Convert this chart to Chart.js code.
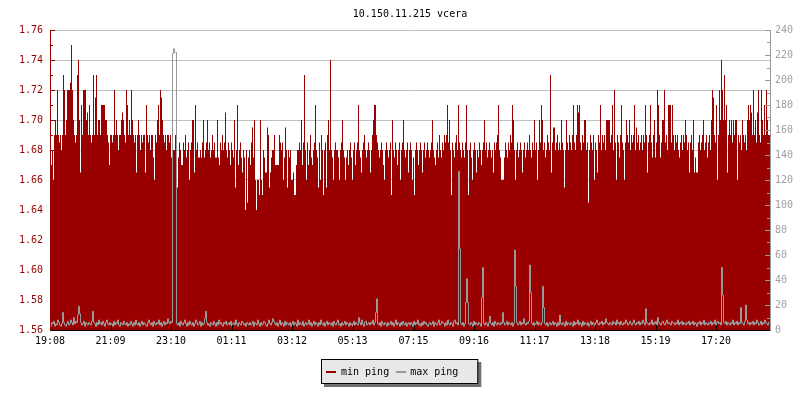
<!DOCTYPE html>
<html>
<head>
<meta charset="utf-8">
<title>10.150.11.215 vcera</title>
<script src="https://cdn.jsdelivr.net/npm/chart.js@4.4.1/dist/chart.umd.min.js"></script>
<style>
  html, body { margin: 0; padding: 0; background: #fff; }
  #wrap { width: 800px; height: 400px; }
</style>
</head>
<body>
<div id="wrap"><canvas id="pingChart" width="800" height="400"></canvas></div>
<script>
const chartTitle = '10.150.11.215 vcera';
const seriesNames = ['min ping', 'max ping'];
const timeLabels = ['19:08', '21:09', '23:10', '01:11', '03:12', '05:13', '07:15', '09:16', '11:17', '13:18', '15:19', '17:20'];
const stepMinutes = 2;

// min ping, one sample every 2 minutes (left axis)
const minPing = [
  1.69, 1.67, 1.67, 1.68, 1.66, 1.69, 1.70, 1.69, 1.72, 1.69, 1.685, 1.69, 1.68, 1.69, 1.73, 1.72, 1.69, 1.70, 1.72, 1.72,
  1.72, 1.725, 1.75, 1.72, 1.70, 1.69, 1.685, 1.69, 1.73, 1.74, 1.70, 1.665, 1.71, 1.69, 1.72, 1.72, 1.72, 1.70, 1.705, 1.69,
  1.71, 1.69, 1.685, 1.69, 1.73, 1.69, 1.715, 1.73, 1.69, 1.70, 1.70, 1.69, 1.71, 1.71, 1.71, 1.71, 1.70, 1.70, 1.69, 1.685,
  1.67, 1.69, 1.69, 1.685, 1.69, 1.72, 1.69, 1.70, 1.69, 1.68, 1.69, 1.69, 1.70, 1.705, 1.70, 1.69, 1.685, 1.72, 1.71, 1.69,
  1.70, 1.69, 1.72, 1.70, 1.69, 1.685, 1.69, 1.665, 1.69, 1.70, 1.69, 1.68, 1.69, 1.685, 1.69, 1.69, 1.665, 1.71, 1.69, 1.685,
  1.69, 1.68, 1.69, 1.69, 1.675, 1.66, 1.69, 1.685, 1.70, 1.71, 1.69, 1.72, 1.715, 1.70, 1.69, 1.685, 1.69, 1.68, 1.69, 1.69,
  1.685, 1.69, 1.675, 1.69, 1.68, 1.68, 1.69, 1.71, 1.655, 1.675, 1.685, 1.68, 1.67, 1.67, 1.685, 1.68, 1.69, 1.675, 1.68, 1.685,
  1.66, 1.68, 1.685, 1.70, 1.70, 1.665, 1.71, 1.68, 1.685, 1.675, 1.675, 1.68, 1.675, 1.685, 1.70, 1.675, 1.68, 1.685, 1.70, 1.68,
  1.685, 1.675, 1.68, 1.69, 1.68, 1.685, 1.675, 1.675, 1.70, 1.675, 1.67, 1.685, 1.68, 1.69, 1.68, 1.685, 1.705, 1.68, 1.675, 1.685,
  1.68, 1.67, 1.685, 1.68, 1.675, 1.70, 1.655, 1.68, 1.71, 1.67, 1.68, 1.685, 1.675, 1.665, 1.68, 1.675, 1.64, 1.68, 1.645, 1.675,
  1.68, 1.67, 1.685, 1.695, 1.675, 1.70, 1.66, 1.64, 1.66, 1.66, 1.65, 1.70, 1.66, 1.65, 1.68, 1.675, 1.665, 1.665, 1.695, 1.69,
  1.655, 1.665, 1.675, 1.68, 1.68, 1.69, 1.67, 1.67, 1.67, 1.67, 1.69, 1.685, 1.68, 1.685, 1.66, 1.675, 1.695, 1.68, 1.655, 1.68,
  1.675, 1.68, 1.66, 1.66, 1.665, 1.65, 1.65, 1.67, 1.68, 1.68, 1.685, 1.68, 1.70, 1.67, 1.685, 1.73, 1.68, 1.66, 1.685, 1.67,
  1.68, 1.69, 1.675, 1.67, 1.68, 1.685, 1.71, 1.68, 1.675, 1.655, 1.685, 1.66, 1.69, 1.68, 1.65, 1.68, 1.685, 1.655, 1.69, 1.70,
  1.68, 1.74, 1.68, 1.675, 1.66, 1.68, 1.685, 1.68, 1.68, 1.675, 1.66, 1.68, 1.685, 1.70, 1.68, 1.675, 1.66, 1.675, 1.68, 1.67,
  1.68, 1.685, 1.675, 1.66, 1.68, 1.685, 1.67, 1.68, 1.685, 1.71, 1.68, 1.675, 1.665, 1.68, 1.685, 1.69, 1.68, 1.675, 1.68, 1.685,
  1.68, 1.665, 1.68, 1.69, 1.70, 1.71, 1.71, 1.69, 1.685, 1.68, 1.675, 1.68, 1.685, 1.68, 1.67, 1.66, 1.68, 1.685, 1.68, 1.675,
  1.68, 1.685, 1.65, 1.70, 1.68, 1.675, 1.685, 1.68, 1.67, 1.68, 1.685, 1.66, 1.68, 1.685, 1.70, 1.68, 1.675, 1.68, 1.685, 1.665,
  1.68, 1.685, 1.68, 1.66, 1.675, 1.65, 1.68, 1.685, 1.68, 1.67, 1.68, 1.685, 1.68, 1.665, 1.68, 1.685, 1.675, 1.68, 1.685, 1.68,
  1.675, 1.68, 1.685, 1.70, 1.68, 1.675, 1.67, 1.68, 1.685, 1.675, 1.69, 1.68, 1.675, 1.685, 1.68, 1.69, 1.685, 1.69, 1.71, 1.685,
  1.70, 1.68, 1.65, 1.685, 1.68, 1.675, 1.685, 1.69, 1.68, 1.71, 1.685, 1.68, 1.675, 1.685, 1.68, 1.675, 1.685, 1.71, 1.68, 1.65,
  1.68, 1.685, 1.675, 1.66, 1.68, 1.685, 1.68, 1.665, 1.68, 1.675, 1.685, 1.68, 1.67, 1.68, 1.685, 1.70, 1.68, 1.685, 1.675, 1.68,
  1.685, 1.68, 1.675, 1.68, 1.665, 1.685, 1.68, 1.685, 1.69, 1.71, 1.68, 1.675, 1.66, 1.66, 1.66, 1.675, 1.685, 1.68, 1.675, 1.685,
  1.68, 1.69, 1.685, 1.71, 1.70, 1.68, 1.66, 1.68, 1.685, 1.675, 1.68, 1.685, 1.68, 1.665, 1.68, 1.685, 1.675, 1.68, 1.685, 1.68,
  1.69, 1.68, 1.675, 1.685, 1.68, 1.70, 1.68, 1.685, 1.66, 1.68, 1.70, 1.685, 1.71, 1.70, 1.68, 1.685, 1.675, 1.68, 1.69, 1.685,
  1.68, 1.73, 1.665, 1.685, 1.695, 1.695, 1.68, 1.685, 1.69, 1.68, 1.685, 1.68, 1.70, 1.685, 1.68, 1.655, 1.68, 1.70, 1.685, 1.68,
  1.69, 1.685, 1.68, 1.69, 1.71, 1.685, 1.68, 1.69, 1.71, 1.705, 1.71, 1.685, 1.68, 1.69, 1.685, 1.70, 1.70, 1.68, 1.685, 1.645,
  1.68, 1.69, 1.685, 1.68, 1.69, 1.66, 1.685, 1.68, 1.665, 1.69, 1.685, 1.71, 1.68, 1.69, 1.685, 1.69, 1.68, 1.70, 1.70, 1.70,
  1.70, 1.685, 1.69, 1.71, 1.68, 1.72, 1.685, 1.66, 1.69, 1.685, 1.675, 1.69, 1.71, 1.685, 1.68, 1.66, 1.685, 1.70, 1.69, 1.685,
  1.70, 1.68, 1.69, 1.685, 1.69, 1.71, 1.68, 1.695, 1.685, 1.69, 1.68, 1.685, 1.69, 1.68, 1.69, 1.685, 1.71, 1.69, 1.665, 1.685,
  1.69, 1.71, 1.685, 1.675, 1.69, 1.70, 1.675, 1.685, 1.72, 1.71, 1.69, 1.675, 1.685, 1.70, 1.70, 1.72, 1.685, 1.69, 1.68, 1.71,
  1.71, 1.71, 1.685, 1.71, 1.69, 1.68, 1.69, 1.685, 1.69, 1.68, 1.675, 1.685, 1.69, 1.68, 1.69, 1.685, 1.70, 1.69, 1.68, 1.685,
  1.665, 1.685, 1.69, 1.68, 1.70, 1.665, 1.675, 1.665, 1.665, 1.685, 1.69, 1.68, 1.685, 1.69, 1.70, 1.68, 1.685, 1.69, 1.675, 1.685,
  1.69, 1.68, 1.70, 1.72, 1.715, 1.69, 1.685, 1.71, 1.66, 1.69, 1.72, 1.70, 1.74, 1.72, 1.70, 1.73, 1.70, 1.71, 1.665, 1.69,
  1.70, 1.69, 1.70, 1.685, 1.70, 1.69, 1.70, 1.70, 1.66, 1.69, 1.685, 1.69, 1.68, 1.70, 1.69, 1.685, 1.69, 1.68, 1.70, 1.71,
  1.70, 1.71, 1.705, 1.69, 1.72, 1.69, 1.70, 1.685, 1.705, 1.72, 1.69, 1.685, 1.72, 1.70, 1.69, 1.71, 1.69, 1.72, 1.70, 1.69
];

// max ping, same sampling (right axis)
const maxPing = [
  4, 3, 6, 5, 7, 3, 5, 4, 8, 6, 4, 3, 5, 14, 6, 4, 3, 5, 7, 4,
  5, 8, 6, 4, 10, 5, 7, 6, 12, 19, 13, 6, 4, 5, 7, 3, 6, 5, 4, 6,
  5, 4, 7, 15, 6, 5, 3, 6, 4, 8, 5, 6, 4, 7, 5, 3, 6, 8, 5, 4,
  6, 4, 5, 3, 7, 4, 6, 5, 8, 4, 3, 6, 5, 4, 7, 5, 4, 6, 3, 5,
  4, 7, 5, 3, 6, 4, 8, 5, 4, 6, 3, 5, 7, 4, 6, 5, 4, 3, 6, 8,
  5, 4, 6, 3, 7, 5, 4, 6, 5, 8, 4, 6, 3, 5, 7, 4, 6, 5, 9, 6,
  5, 7, 6, 221, 225, 222, 222, 5, 4, 6, 3, 7, 5, 4, 6, 8, 5, 3, 6, 4,
  7, 5, 4, 6, 3, 5, 8, 6, 4, 5, 7, 3, 6, 4, 5, 9, 15, 6, 4, 5,
  3, 6, 5, 4, 7, 5, 3, 6, 4, 8, 5, 6, 4, 3, 6, 5, 7, 4, 5, 6,
  4, 7, 3, 5, 6, 4, 8, 5, 3, 6, 5, 4, 7, 6, 4, 5, 3, 6, 5, 4,
  6, 4, 5, 7, 3, 6, 5, 4, 8, 5, 3, 6, 4, 5, 7, 6, 4, 3, 5, 8,
  5, 4, 6, 9, 7, 5, 4, 6, 3, 5, 8, 4, 6, 5, 3, 7, 4, 6, 5, 4,
  6, 3, 5, 7, 4, 6, 5, 3, 8, 4, 6, 5, 4, 7, 3, 5, 6, 4, 5, 8,
  4, 6, 3, 5, 7, 4, 6, 5, 3, 6, 4, 8, 5, 4, 6, 3, 5, 7, 4, 6,
  5, 4, 6, 3, 7, 5, 4, 6, 8, 4, 5, 3, 6, 4, 5, 7, 4, 6, 5, 3,
  6, 4, 5, 3, 7, 4, 6, 5, 4, 10, 6, 4, 8, 5, 3, 6, 7, 4, 5, 6,
  4, 6, 5, 8, 4, 6, 14, 25, 5, 4, 6, 3, 7, 5, 4, 6, 5, 3, 6, 4,
  5, 7, 4, 6, 3, 5, 8, 4, 6, 5, 3, 6, 4, 7, 5, 4, 6, 3, 5, 6,
  4, 6, 5, 3, 7, 4, 6, 5, 8, 4, 5, 3, 6, 4, 7, 5, 6, 4, 3, 5,
  6, 4, 5, 7, 3, 6, 5, 4, 6, 8, 4, 5, 7, 6, 5, 3, 6, 4, 8, 5,
  4, 6, 5, 3, 7, 8, 5, 6, 4, 127, 65, 5, 4, 6, 3, 5, 22, 41, 22, 5,
  4, 6, 5, 3, 7, 4, 6, 5, 4, 6, 5, 3, 26, 50, 5, 4, 6, 5, 3, 6,
  11, 5, 4, 6, 3, 7, 5, 4, 6, 5, 4, 6, 5, 14, 6, 4, 5, 7, 4, 6,
  5, 4, 6, 3, 5, 64, 35, 6, 4, 5, 7, 4, 6, 5, 9, 5, 4, 6, 5, 7,
  52, 30, 5, 4, 6, 3, 5, 7, 4, 6, 5, 4, 6, 35, 18, 5, 4, 6, 3, 5,
  6, 4, 5, 7, 4, 6, 5, 3, 6, 4, 12, 5, 4, 6, 5, 3, 7, 4, 6, 5,
  4, 6, 5, 3, 7, 4, 6, 5, 8, 4, 6, 5, 3, 7, 4, 6, 5, 4, 6, 3,
  5, 7, 4, 6, 5, 3, 6, 8, 5, 4, 6, 5, 7, 4, 6, 5, 9, 6, 5, 4,
  6, 5, 4, 7, 5, 6, 4, 8, 5, 6, 4, 7, 5, 4, 6, 5, 8, 6, 4, 5,
  7, 5, 4, 6, 8, 5, 4, 6, 5, 7, 4, 6, 5, 8, 6, 4, 17, 6, 5, 4,
  6, 5, 8, 4, 6, 5, 7, 4, 10, 6, 5, 4, 6, 7, 5, 4, 6, 8, 5, 6,
  5, 4, 7, 6, 5, 4, 6, 5, 8, 4, 6, 5, 7, 4, 6, 5, 4, 6, 5, 7,
  4, 6, 5, 7, 4, 6, 5, 3, 6, 5, 7, 4, 6, 5, 8, 4, 6, 5, 4, 6,
  5, 7, 4, 6, 5, 8, 4, 6, 7, 5, 6, 4, 50, 28, 6, 5, 7, 4, 6, 5,
  4, 6, 5, 8, 4, 6, 5, 7, 4, 6, 5, 18, 6, 5, 4, 7, 20, 8, 5, 6,
  4, 6, 5, 7, 4, 6, 5, 8, 6, 4, 5, 7, 4, 6, 5, 8, 6, 5, 4, 6
];

const redColor = '#990000';
const greyColor = '#999999';
const monoFont = '"DejaVu Sans Mono", "Liberation Mono", monospace';

const startMinute = 19 * 60 + 8;
const tickMinutes = timeLabels.map(t => {
  const [h, m] = t.split(':').map(Number);
  return (h * 60 + m - startMinute + 1440) % 1440;
});
const spanMinutes = minPing.length * stepMinutes;

// stepped series need the last step closed at the end of the range
function toSteps(values) {
  const pts = values.map((v, i) => ({ x: i * stepMinutes, y: v }));
  pts.push({ x: spanMinutes, y: values[values.length - 1] });
  return pts;
}

// inward tick marks, title and the boxed legend
const rrdDecor = {
  id: 'rrdDecor',
  beforeDatasetDraw(chart, args) {
    // keep the thin max line on whole pixels
    if (args.meta.yAxisID === 'y2') {
      chart.ctx.save();
      chart.ctx.translate(0.5, 0);
    }
  },
  afterDatasetDraw(chart, args) {
    if (args.meta.yAxisID === 'y2') chart.ctx.restore();
  },
  afterDatasetsDraw(chart) {
    const { ctx, chartArea: a, scales } = chart;
    ctx.save();
    ctx.lineWidth = 1;

    ctx.strokeStyle = '#000';
    ctx.beginPath();
    tickMinutes.forEach(m => {
      const px = Math.round(scales.x.getPixelForValue(m)) + 0.5;
      ctx.moveTo(px, a.bottom);
      ctx.lineTo(px, a.bottom - 5);
    });
    ctx.stroke();

    ctx.strokeStyle = redColor;
    ctx.beginPath();
    for (let v = 156; v <= 176; v++) {
      const py = Math.round(scales.y.getPixelForValue(v / 100)) + 0.5;
      ctx.moveTo(a.left, py);
      ctx.lineTo(a.left + (v % 2 === 0 ? 5 : 3), py);
    }
    ctx.stroke();

    ctx.strokeStyle = greyColor;
    ctx.beginPath();
    for (let v = 0; v <= 240; v += 10) {
      const py = Math.round(scales.y2.getPixelForValue(v)) + 0.5;
      ctx.moveTo(a.right, py);
      ctx.lineTo(a.right - (v % 20 === 0 ? 5 : 3), py);
    }
    ctx.stroke();
    ctx.restore();
  },
  afterDraw(chart) {
    const { ctx, chartArea: a } = chart;
    ctx.save();
    ctx.font = '10px ' + monoFont;
    ctx.textBaseline = 'alphabetic';
    ctx.fillStyle = '#000';
    ctx.textAlign = 'center';
    ctx.fillText(chartTitle, (a.left + a.right) / 2, 17);

    // legend box
    ctx.textAlign = 'left';
    const w1 = ctx.measureText(seriesNames[0]).width;
    const w2 = ctx.measureText(seriesNames[1]).width;
    const lw = 5 + 10 + 5 + w1 + 7 + 10 + 4 + w2 + 19;
    const lh = 24;
    const lx = Math.round(chart.width / 2 - 1 - lw / 2);
    const ly = 359;
    ctx.fillStyle = '#707070';
    ctx.fillRect(lx + 3, ly + 3, lw + 1, lh + 1);
    ctx.fillStyle = '#e8e8e8';
    ctx.fillRect(lx, ly, lw, lh);
    ctx.strokeStyle = '#000';
    ctx.strokeRect(lx + 0.5, ly + 0.5, lw, lh);

    let x = lx + 5;
    ctx.fillStyle = redColor;
    ctx.fillRect(x, 371, 10, 2);
    x += 15;
    ctx.fillStyle = '#000';
    ctx.fillText(seriesNames[0], x, 375);
    x += w1 + 7;
    ctx.fillStyle = greyColor;
    ctx.fillRect(x, 371, 10, 2);
    x += 14;
    ctx.fillStyle = '#000';
    ctx.fillText(seriesNames[1], x, 375);
    ctx.restore();
  }
};

new Chart(document.getElementById('pingChart'), {
  type: 'line',
  data: {
    datasets: [
      {
        label: seriesNames[0],
        data: toSteps(minPing),
        yAxisID: 'y',
        stepped: 'after',
        borderWidth: 0,
        borderColor: redColor,
        backgroundColor: redColor,
        fill: 'start',
        pointRadius: 0,
        order: 2
      },
      {
        label: seriesNames[1],
        data: toSteps(maxPing),
        yAxisID: 'y2',
        stepped: 'after',
        borderWidth: 1,
        borderColor: greyColor,
        fill: false,
        pointRadius: 0,
        order: 1
      }
    ]
  },
  options: {
    responsive: false,
    animation: false,
    devicePixelRatio: 1,
    layout: { padding: { top: 30, bottom: 50, left: 0, right: 0 } },
    plugins: {
      legend: { display: false },
      title: { display: false },
      tooltip: { enabled: false }
    },
    scales: {
      x: {
        type: 'linear',
        min: 0,
        max: spanMinutes,
        afterFit: s => { s.height = 20; },
        afterBuildTicks: s => { s.ticks = tickMinutes.map(v => ({ value: v })); },
        grid: { display: false, drawTicks: false },
        border: { display: true, color: '#000', width: 1, z: 1 },
        ticks: {
          autoSkip: false,
          maxRotation: 0,
          padding: 5,
          color: '#000',
          font: { family: monoFont, size: 10 },
          callback: (v, i) => timeLabels[i]
        }
      },
      y: {
        position: 'left',
        min: 1.56,
        max: 1.76,
        afterFit: s => { s.width = 50; },
        grid: { color: '#c0c0c0', drawTicks: false },
        border: { display: true, color: redColor, width: 1, z: 1 },
        ticks: {
          stepSize: 0.02,
          padding: 7,
          color: redColor,
          font: { family: monoFont, size: 10 },
          callback: v => v.toFixed(2)
        }
      },
      y2: {
        position: 'right',
        min: 0,
        max: 240,
        afterFit: s => { s.width = 30; },
        grid: { display: false, drawTicks: false },
        border: { display: true, color: greyColor, width: 1, z: 1 },
        ticks: {
          stepSize: 20,
          padding: 5,
          color: '#a0a0a0',
          font: { family: monoFont, size: 10 }
        }
      }
    }
  },
  plugins: [rrdDecor]
});
</script>
</body>
</html>
